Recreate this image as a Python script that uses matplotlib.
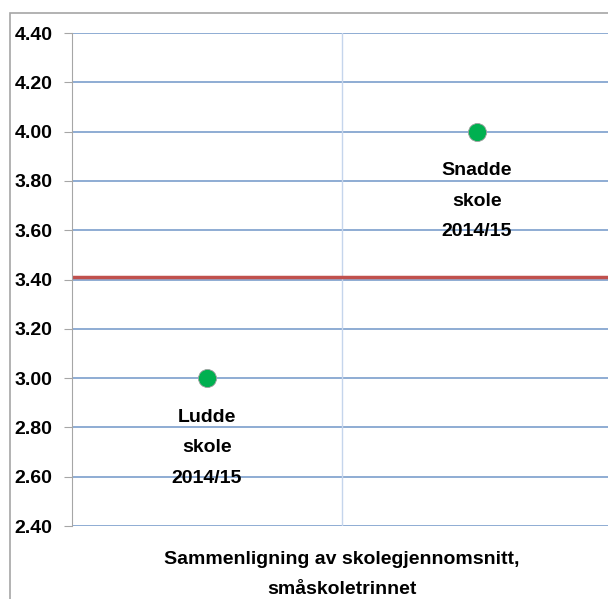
import matplotlib.pyplot as plt
from matplotlib.patches import Rectangle

schools = ["Ludde\nskole\n2014/15", "Snadde\nskole\n2014/15"]
x_pos = [0.5, 1.5]
averages = [3.00, 4.00]
reference_level = 3.41
yticks = [2.40, 2.60, 2.80, 3.00, 3.20, 3.40, 3.60, 3.80, 4.00, 4.20, 4.40]
xlabel = "Sammenligning av skolegjennomsnitt,\nsmåskoletrinnet"

plt.rcParams['font.family'] = ['Liberation Sans', 'DejaVu Sans']

fig = plt.figure(figsize=(6.08, 5.99), dpi=100)
# outer chart frame (cut off on the right and bottom)
fig.patches.append(Rectangle((10/608, -0.1), 1.2, 1 - 13/599 + 0.1,
                             transform=fig.transFigure, fill=False,
                             edgecolor='#a6a6a6', linewidth=1.2))

ax = fig.add_axes([72/608, 1 - 526/599, 540/608, 493/599])
ax.set_xlim(0, 2)
ax.set_ylim(2.40, 4.40)
ax.set_yticks(yticks)
ax.set_yticklabels([f"{v:.2f}" for v in yticks], fontsize=14, fontweight='bold')
ax.set_xticks([])
for y in yticks:
    ax.axhline(y, color='#7096c8', linewidth=1.1, zorder=1)
ax.axvline(1, color='#c5d5ec', linewidth=1.0, zorder=1)
ax.axhline(reference_level, color='#c0504d', linewidth=2.5, zorder=2)

ax.plot(x_pos, averages, 'o', color='#00b050', markersize=13,
        markeredgecolor='#a0a0a0', markeredgewidth=0.6, zorder=3)
for x, y, name in zip(x_pos, averages, schools):
    ax.annotate(name, (x, y), xytext=(0, -22), textcoords='offset points',
                ha='center', va='top', fontsize=14, fontweight='bold',
                linespacing=2.05)

for s in ['top', 'right', 'bottom']:
    ax.spines[s].set_visible(False)
ax.spines['left'].set_color('#a6a6a6')
ax.tick_params(axis='y', length=6, color='#a6a6a6', pad=8)

ax.set_xlabel(xlabel, fontsize=14, fontweight='bold', linespacing=2.05)
ax.xaxis.set_label_coords(270/540, -0.05, transform=ax.transAxes)
ax.xaxis.label.set_va('top')

fig.savefig("out.png", dpi=100)
